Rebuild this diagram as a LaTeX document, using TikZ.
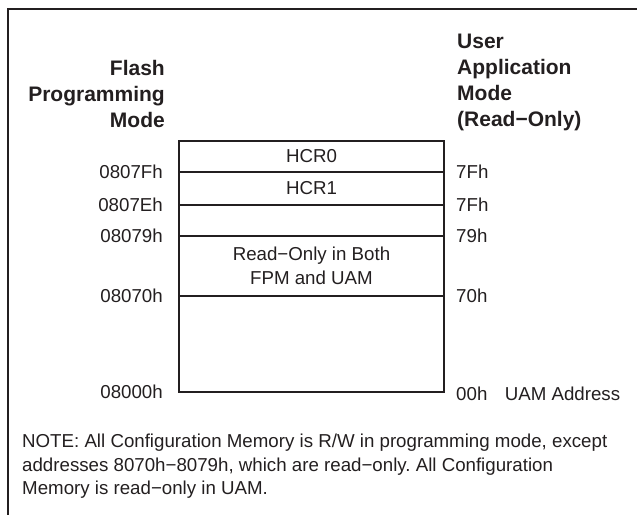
\documentclass[tikz,border=0pt]{standalone}
\usepackage{fontspec}
\setmainfont{Liberation Sans}
\usetikzlibrary{positioning}
\definecolor{MemInk}{HTML}{231F20}
\frenchspacing

\begin{document}
\begin{tikzpicture}[x=1pt,y=-1pt,
    cell/.style={draw=MemInk,line width=1pt,minimum width=264pt,inner sep=0pt,
      align=center,text=MemInk,font=\fontsize{18.7}{23.5}\selectfont},
    addr/.style={inner sep=0pt,text=MemInk,font=\fontsize{18.7}{23.5}\selectfont},
    head/.style={inner sep=0pt,text=MemInk,font=\fontsize{21}{26.3}\selectfont\bfseries},
    frame/.style={draw=MemInk,line width=2pt}
  ]
  \useasboundingbox (0,0) rectangle (637,515);
  \draw[frame] (637,9) -- (8,9) -- (8,515);
  \node[cell,minimum height=30pt,anchor=north west] (hcr0) at (179,141) {HCR0};
  \node[cell,minimum height=32pt,below=0pt of hcr0] (hcr1) {HCR1};
  \node[cell,minimum height=30pt,below=0pt of hcr1] (spare) {};
  \node[cell,minimum height=59pt,below=0pt of spare] (ronly) {Read−Only in Both\\FPM and UAM};
  \node[cell,minimum height=95pt,below=0pt of ronly] (base) {};
  \draw[frame,line width=2.4pt] (hcr0.north west) rectangle (base.south east);
  \node[head,align=right,above left=13pt and 14pt of hcr0.north west] (fpm)
    {Flash\\Programming\\Mode};
  \node[head,align=left,above right=9.5pt and 13pt of hcr0.north east] (uamode)
    {User\\Application\\Mode\\(Read−Only)};
  \node[addr,left=16pt of hcr0.south west] (a7f) {0807Fh};
  \node[addr,left=16pt of hcr1.south west] (a7e) {0807Eh};
  \node[addr,left=16pt of spare.south west] (a79) {08079h};
  \node[addr,left=16pt of ronly.south west] (a70) {08070h};
  \node[addr,left=16pt of base.south west] (a00) {08000h};
  \node[addr,right=12pt of hcr0.south east] (u7f) {7Fh};
  \node[addr,right=12pt of hcr1.south east] (u7e) {7Fh};
  \node[addr,right=12pt of spare.south east] (u79) {79h};
  \node[addr,right=12pt of ronly.south east] (u70) {70h};
  \node[addr,right=12pt of base.south east,yshift=-2pt] (u00) {00h};
  \node[addr,right=17pt of u00] (uamaddr) {UAM Address};
  \node[addr,align=left,anchor=north west] (note) at (22,434)
    {NOTE: All Configuration Memory is R/W in programming mode, except\\
     addresses 8070h−8079h, which are read−only. All Configuration\\
     Memory is read−only in UAM.};
\end{tikzpicture}
\end{document}
